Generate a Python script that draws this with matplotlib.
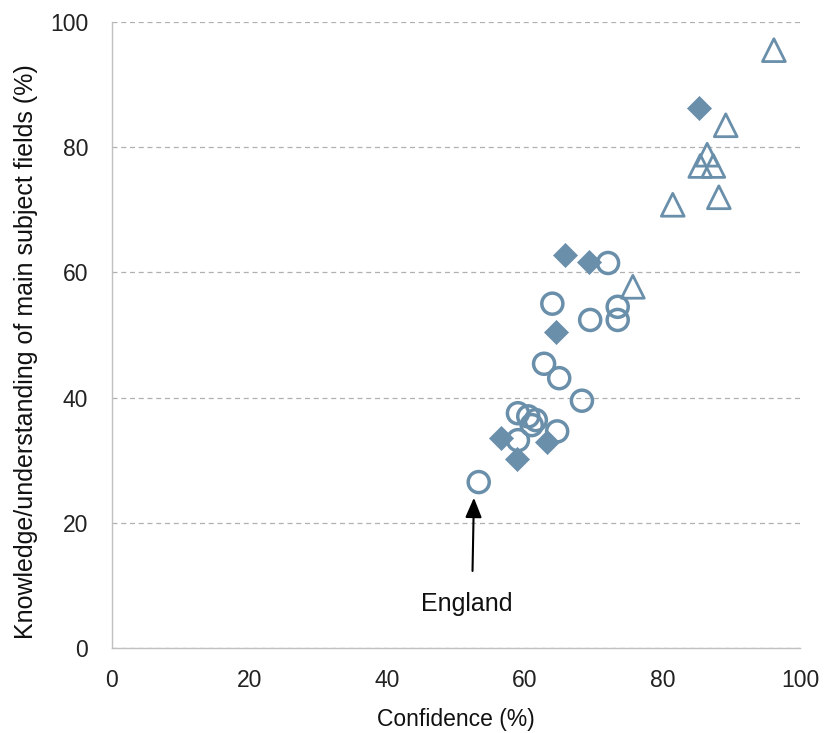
import matplotlib
matplotlib.use("Agg")
import matplotlib.pyplot as plt

plt.rcParams['font.family'] = ['Liberation Sans', 'DejaVu Sans']

circle_x = [53.3, 64.0, 69.5, 73.5, 73.5, 72.1, 62.8, 65.0, 68.3, 59.0, 60.5, 61.6, 61.0, 59.0, 64.7]
circle_y = [26.5, 55.0, 52.4, 54.5, 52.4, 61.5, 45.4, 43.1, 39.5, 37.5, 37.0, 36.4, 35.6, 33.2, 34.6]

diamond_x = [85.3, 65.8, 69.3, 64.5, 56.5, 58.9, 63.2]
diamond_y = [86.3, 62.8, 61.7, 50.5, 33.5, 30.2, 32.9]

triangle_x = [96.2, 89.2, 86.5, 85.5, 87.4, 88.2, 81.5, 75.7]
triangle_y = [95.5, 83.5, 78.8, 77.0, 77.0, 72.0, 70.8, 57.7]

x_ticks = [0, 20, 40, 60, 80, 100]
y_ticks = [0, 20, 40, 60, 80, 100]

color = '#6A8FAA'

fig = plt.figure(figsize=(8.27, 7.33), dpi=100)
ax = fig.add_axes([0.1354, 0.116, 0.832, 0.854])

ax.scatter(diamond_x, diamond_y, marker='D', s=150, color=color, edgecolors=color, linewidths=0.5, zorder=3)
ax.scatter(circle_x, circle_y, marker='o', s=230, facecolors='none', edgecolors=color, linewidths=2.5, zorder=4)
ax.scatter(triangle_x, triangle_y, marker='^', s=270, facecolors='none', edgecolors=color, linewidths=2.0, zorder=4)

ax.set_xlim(0, 100)
ax.set_ylim(0, 100)
ax.set_xticks(x_ticks)
ax.set_yticks(y_ticks)
ax.tick_params(length=0, labelsize=16.5, colors='#222222')
ax.tick_params(axis='x', pad=15)
ax.tick_params(axis='y', pad=17)
ax.yaxis.grid(True, linestyle=(0, (4, 3)), color='#B0B0B0', linewidth=0.9)
ax.set_axisbelow(True)
for s in ['top', 'right']:
    ax.spines[s].set_visible(False)
for s in ['left', 'bottom']:
    ax.spines[s].set_color('#C0C0C0')
    ax.spines[s].set_linewidth(1.0)

ax.set_xlabel('Confidence (%)', fontsize=16.5, labelpad=12, color='#111111')
ax.set_ylabel('Knowledge/understanding of main subject fields (%)', fontsize=18, color='#111111')
ax.yaxis.set_label_coords(-0.108, 0.473)

ax.annotate('', xy=(52.6, 24.0), xytext=(52.4, 12.3),
            arrowprops=dict(arrowstyle='-|>,head_length=1.2,head_width=0.5', color='black', lw=1.5,
                            mutation_scale=10, shrinkA=0, shrinkB=0))
ax.text(51.6, 7.0, 'England', ha='center', va='center', fontsize=18, color='#111111')

fig.savefig('out.png', dpi=100)
